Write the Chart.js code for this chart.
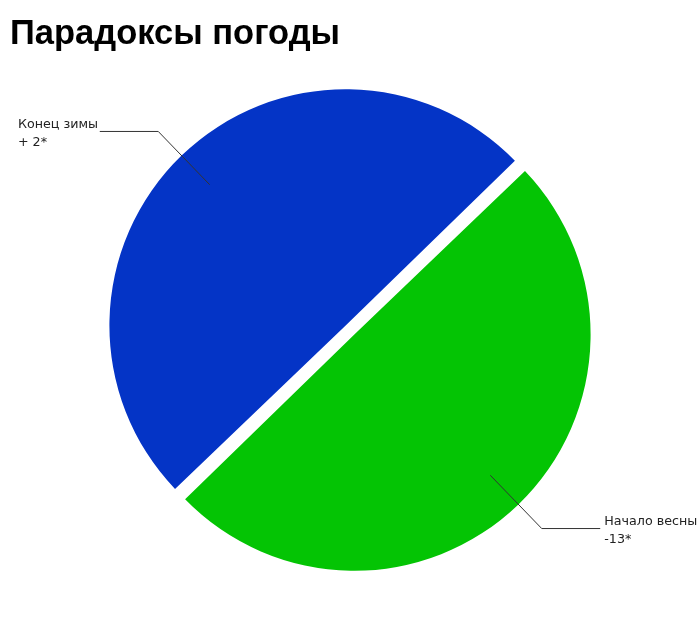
<!DOCTYPE html>
<html>
<head>
<meta charset="utf-8">
<script src="https://cdn.jsdelivr.net/npm/chart.js@4/dist/chart.umd.min.js"></script>
<style>
html,body{margin:0;padding:0;background:#fff;}
#wrap{width:700px;height:629px;position:relative;}
</style>
</head>
<body>
<div id="wrap"><canvas id="c" width="700" height="629"></canvas></div>
<script>
const titleText = 'Парадоксы погоды';
const categories = ['Конец зимы', 'Начало весны'];
const valueLabels = ['+ 2*', '-13*'];
const values = [50, 50];
const colors = ['#0434c6', '#04c404'];

const leaderPlugin = {
  id: 'leaders',
  afterDatasetsDraw(chart) {
    const ctx = chart.ctx;
    const meta = chart.getDatasetMeta(0);
    ctx.save();
    ctx.font = '12.7px "DejaVu Sans"';
    ctx.textBaseline = 'alphabetic';
    ctx.textAlign = 'left';
    meta.data.forEach((arc, i) => {
      const p = arc.getProps(['x', 'y', 'startAngle', 'endAngle', 'outerRadius'], true);
      const mid = (p.startAngle + p.endAngle) / 2;
      const cx = Math.cos(mid), cy = Math.sin(mid);
      const ax = p.x + cx * p.outerRadius * 0.878;
      const ay = p.y + cy * p.outerRadius * 0.878;
      const ex = p.x + cx * p.outerRadius * 1.2;
      const ey = p.y + cy * p.outerRadius * 1.2;
      const right = cx >= 0;
      const hx = ex + (right ? 58.5 : -58.5);
      ctx.strokeStyle = '#333';
      ctx.lineWidth = 1;
      ctx.beginPath();
      ctx.moveTo(ax, ay);
      ctx.lineTo(ex, ey);
      ctx.lineTo(hx, ey);
      ctx.stroke();
      ctx.fillStyle = '#222';
      const w = ctx.measureText(categories[i]).width;
      const tx = right ? hx + 4 : hx - 1.7 - w;
      ctx.fillText(categories[i], tx, ey - 3.4);
      ctx.fillText(valueLabels[i], tx, ey + 14.4);
    });
    ctx.restore();
  }
};

new Chart(document.getElementById('c'), {
  type: 'pie',
  data: {
    labels: categories,
    datasets: [{
      data: values,
      backgroundColor: colors,
      borderWidth: 0,
      offset: 25,
      hoverOffset: 25
    }]
  },
  options: {
    responsive: false,
    animation: false,
    rotation: 226,
    radius: 230,
    layout: { padding: { left: 10, right: 10, top: 0, bottom: 24 } },
    plugins: {
      legend: { display: false },
      tooltip: { enabled: false },
      title: {
        display: true,
        text: titleText,
        align: 'start',
        color: '#000',
        font: { family: '"Liberation Sans", Arial, sans-serif', size: 34.5, weight: 'bold', lineHeight: 1.2 },
        padding: { top: 13.6, bottom: 0 }
      }
    }
  },
  plugins: [leaderPlugin]
});
</script>
</body>
</html>
